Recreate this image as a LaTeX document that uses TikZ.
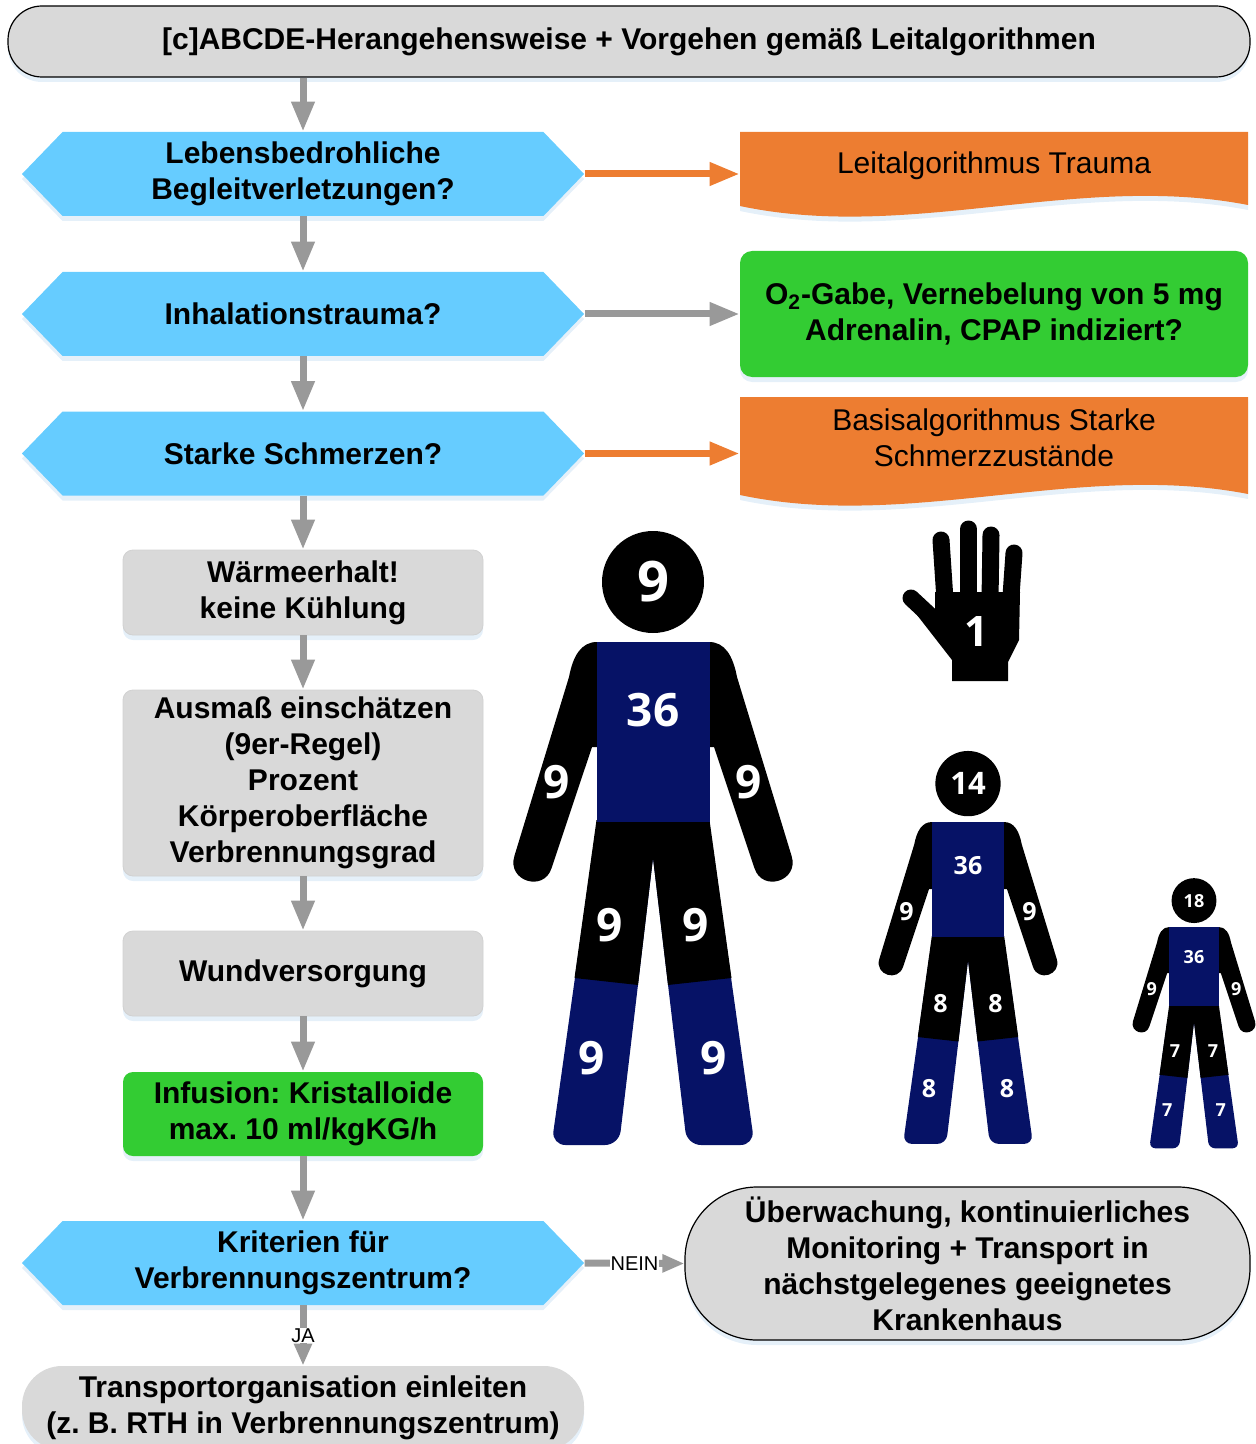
\documentclass[tikz,border=0pt]{standalone}
\usepackage{fontspec}
\setmainfont{Liberation Sans}
\newfontfamily\zahlfont{Open Sans}
\usetikzlibrary{arrows.meta,shapes.symbols,shadows}
\frenchspacing

\definecolor{qgray}{HTML}{D9D9D9}
\definecolor{qblue}{HTML}{66CCFF}
\definecolor{qorange}{HTML}{ED7D31}
\definecolor{qgreen}{HTML}{33CC33}
\definecolor{qarrow}{HTML}{999999}
\definecolor{qnavy}{RGB}{6,18,102}
\definecolor{qshadow}{HTML}{C5DDF2}

% Figur nach der Neunerregel
% #1,#2 Mitte/Schulter, #3 Massstab, #4/#5 Schriftgroessen,
% #6 Kopf, #7 Arm, #8 Oberschenkel, #9 Unterschenkel
\newcommand\koerper[9]{%
  \pgfmathsetlengthmacro\rc{7pt*#3}
  \begin{scope}[shift={(#1,#2)},scale=#3]
    \foreach \s in {1,-1} {
      \fill[black,xscale=\s] (-50,0) -- (-56,0) .. controls (-72,0) and (-80,14) .. (-84,35)
        -- (-138.6,214) .. controls (-146.4,239) and (-109.2,250.7) .. (-101.4,226)
        -- (-61,105) -- (-50,105) -- cycle;
      \fill[qnavy,xscale=\s,rounded corners=\rc] (-59,200) -- (-101.5,503) -- (-34,503) -- (1.9,200) -- cycle;
    }
    \fill[black] (-56.5,178) -- (56.5,178) -- (78.5,336) -- (15,343) -- (0,216)
      -- (-15,343) -- (-78.5,336) -- cycle;
    \fill[qnavy] (-56.5,0) rectangle (56.5,180);
    \fill[black] (0,-60) circle (51);
    \node[zahl,font=\zahlfont\bfseries\fontsize{#5}{#5}\selectfont] at (0,-60) {#6};
    \node[zahl,font=\zahlfont\bfseries\fontsize{#4}{#4}\selectfont] at (0,68) {36};
    \foreach \s in {1,-1} {
      \node[zahl,font=\zahlfont\bfseries\fontsize{#4}{#4}\selectfont] at (\s*-96,140) {#7};
      \node[zahl,font=\zahlfont\bfseries\fontsize{#4}{#4}\selectfont] at (\s*-43,283) {#8};
      \node[zahl,font=\zahlfont\bfseries\fontsize{#4}{#4}\selectfont] at (\s*-61,416) {#9};
    }
  \end{scope}}

\begin{document}
\begin{tikzpicture}[x=0.5pt,y=-0.5pt,
  txt/.style={font=\bfseries\fontsize{15}{18}\selectfont,align=center,inner sep=0pt},
  schatten/.style={drop shadow={shadow xshift=0pt,shadow yshift=-2.5pt,opacity=.45,fill=qshadow}},
  frage/.style={txt,schatten,shape=signal,signal to=west and east,signal pointer angle=92,
    fill=qblue,minimum width=281pt,minimum height=42pt},
  schritt/.style={txt,schatten,rounded corners=5pt,fill=qgray,draw=black!18,minimum width=180pt},
  doku/.style={txt,font=\fontsize{15}{18}\selectfont,minimum width=254pt},
  zahl/.style={text=white,inner sep=0pt},
  pfeil/.style={draw=qarrow,line width=3.5pt,-{Triangle[length=15pt,width=11pt]}},
  pfeilo/.style={pfeil,draw=qorange},
  pfeilk/.style={pfeil,-{Triangle[length=11pt,width=8.5pt]}},
  marke/.style={fill=white,inner sep=0.5pt,font=\fontsize{10}{12}\selectfont}
]
\useasboundingbox (0,0) rectangle (1255,1444);

% Hintergrund der Dokumentformen
\foreach \o/\u in {132/206,397/495}
  \fill[qorange,schatten] (740,\o) -- (1248,\o) -- (1248,\u-1)
    .. controls (1078,\u-34) and (910,\u+36) .. (740,\u) -- cycle;

\node[txt,schatten,fill=qgray,draw=black,line width=0.6pt,rounded corners=17pt,
  minimum width=621pt,minimum height=35.5pt] (top) at (629,41.5)
  {{[c]}ABCDE-Herangehensweise + Vorgehen gemäß Leitalgorithmen};

\node[frage] (h1) at (303,174) {Lebensbedrohliche\\Begleitverletzungen?};
\node[frage] (h2) at (303,314) {Inhalationstrauma?};
\node[frage] (h3) at (303,453.5) {Starke Schmerzen?};
\node[schritt,minimum height=42.5pt] (warm) at (303,592.5) {Wärmeerhalt!\\keine Kühlung};
\node[schritt,minimum height=93pt] (size) at (303,783)
  {Ausmaß einschätzen\\(9er-Regel)\\Prozent\\Körperoberfläche\\Verbrennungsgrad};
\node[schritt,minimum height=42.5pt] (wound) at (303,973.5) {Wundversorgung};
\node[schritt,fill=qgreen,draw=none,minimum height=42pt] (infus) at (303,1114)
  {Infusion: Kristalloide\\max. 10 ml/kgKG/h};
\node[frage] (h4) at (303,1263) {Kriterien für\\Verbrennungszentrum?};
\node[txt,schatten,fill=qgray,rounded corners=20pt,minimum width=281pt,minimum height=42pt]
  (transp) at (303,1408) {Transportorganisation einleiten\\(z. B. RTH in Verbrennungszentrum)};

\node[doku] (d1) at (994,166) {Leitalgorithmus Trauma};
\node[txt,schatten,fill=qgreen,rounded corners=6pt,minimum width=254pt,minimum height=63pt]
  (o2) at (994,314) {O\textsubscript{2}-Gabe, Vernebelung von 5 mg\\Adrenalin, CPAP indiziert?};
\node[doku] (d2) at (994,438) {Basisalgorithmus Starke\\Schmerzzustände};
\node[txt,schatten,fill=qgray,draw=black,line width=0.6pt,rounded corners=36pt,
  minimum width=282.5pt,minimum height=76.5pt] (nein) at (967.5,1263.5)
  {Überwachung, kontinuierliches\\Monitoring + Transport in\\nächstgelegenes geeignetes\\Krankenhaus};

% Verbindungen
\draw[pfeil] (h1.north |- top.south) -- (h1.north);
\foreach \a/\b in {h1/h2,h2/h3,h3/warm,warm/size,size/wound,wound/infus,infus/h4}
  \draw[pfeil] (\a.south) -- (\b.north);
\draw[pfeilo] (h1.east) -- (h1.east -| d1.west);
\draw[pfeil] (h2.east) -- (o2.west);
\draw[pfeilo] (h3.east) -- (h3.east -| d2.west);
\draw[pfeilk] (h4.east) -- node[marke] {NEIN} (nein.west);
\draw[pfeilk] (h4.south) -- node[marke] {JA} (transp.north);

% Hand
\begin{scope}[black,line cap=round,line width=8.5pt]
  \foreach \x/\t/\y/\b in {941/540/945/600,968.5/529/968.5/600,991/535/990/600,1014/553/1010/610}
    \draw (\x,\t) -- (\y,\b);
  \draw (911,598) -- (940,625);
  \fill (935,592) -- (1020,592) -- (1019,640) -- (1008,662) -- (1008,681)
    -- (952,681) -- (952,660) -- (910,606) -- (935,614) -- cycle;
\end{scope}
\node[zahl,font=\zahlfont\bfseries\fontsize{21}{21}\selectfont] at (976,632) {1};

% Erwachsener, Kind, Saeugling
\koerper{653}{642}{1}{23pt}{28pt}{9}{9}{9}{9}
\koerper{968}{822}{0.64}{12.5pt}{15.5pt}{14}{9}{8}{8}
\koerper{1194}{927}{0.44}{9pt}{9pt}{18}{9}{7}{7}
\end{tikzpicture}
\end{document}
